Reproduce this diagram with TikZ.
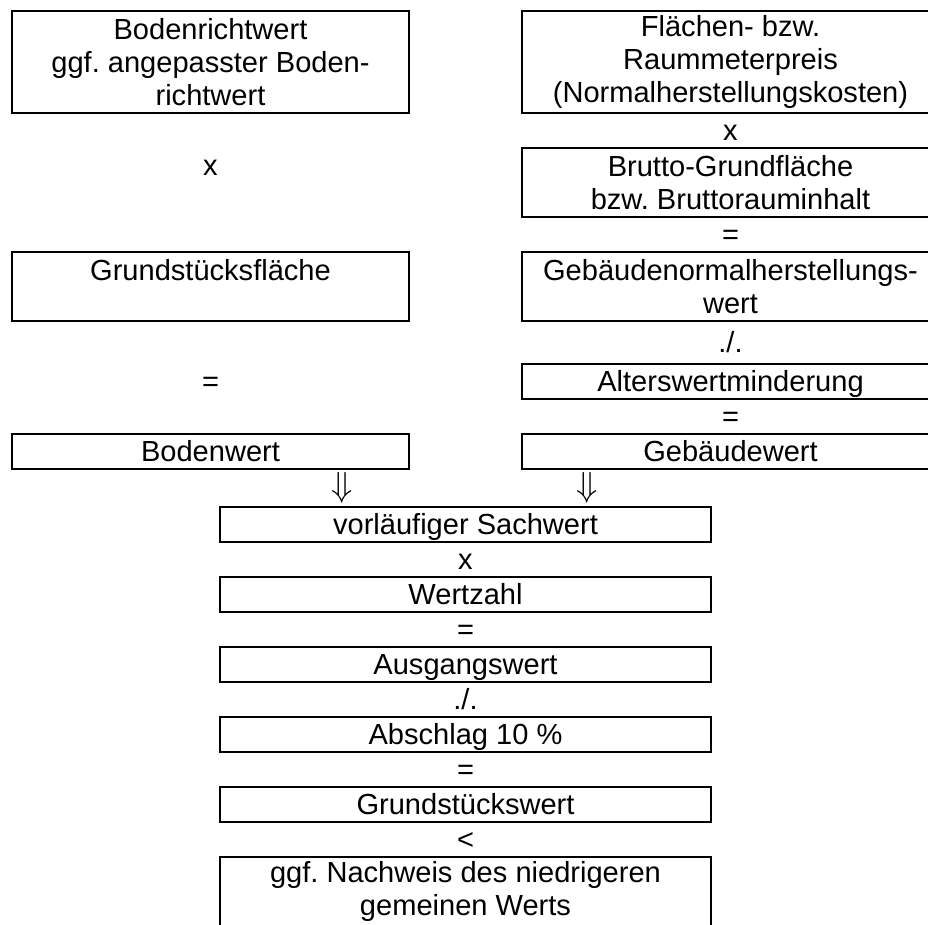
\documentclass[tikz,border=0pt]{standalone}
\usepackage{fontspec}
\setmainfont{Liberation Sans}
\usetikzlibrary{positioning}
\newcommand{\pxu}{0.413pt}
\frenchspacing

\begin{document}
\begin{tikzpicture}[x=\pxu, y=-\pxu, node distance=0pt,
    every node/.style={font=\fontsize{12pt}{13.6pt}\selectfont, align=center,
                       inner sep=0pt, outer sep=0pt},
    box/.style={draw, line width=0.7pt, minimum width=#1*\pxu},
    tall/.style={minimum height=#1*\pxu},
    oneline/.style={text height=8.6pt, text depth=0pt},
    op/.style={oneline, minimum height=35*\pxu},
    pfeil/.style={font=\fontsize{14pt}{16pt}\selectfont}]
  \clip (0,0) rectangle (928,925);
  % rechte Spalte: Gebaeudewert
  \node[box=417, tall=102] (preis) at (730.5,62)
       {Flächen- bzw.\\Raummeterpreis\\(Normalherstellungskosten)};
  \node[op, below=of preis] (malR) {x};
  \node[box=417, tall=69, below=of malR] (bgf) {Brutto-Grundfläche\\bzw. Bruttorauminhalt};
  \node[op, below=of bgf] (gleichR) {=};
  \node[box=417, tall=69, below=of gleichR] (gnhw) {Gebäudenormalherstellungs-\\wert};
  \node[op, tall=43, below=of gnhw] (minusR) {./.};
  \node[box=417, tall=35, oneline, below=of minusR] (awm) {Alterswertminderung};
  \node[op, below=of awm] (istR) {=};
  \node[box=417, tall=35, oneline, below=of istR] (gbw) {Gebäudewert};
  % linke Spalte: Bodenwert
  \node[box=397, tall=102] (brw) at (210.5,62)
       {Bodenrichtwert\\ggf. angepasster Boden-\\richtwert};
  \node[op, anchor=north] (malL) at (brw |- bgf.north) {x};
  \node[box=397, tall=69] (gsf) at (brw |- gnhw) {Grundstücksfläche\\\mbox{}};
  \node[op] (istL) at (brw |- awm) {=};
  \node[box=397, tall=35, oneline] (bdw) at (brw |- gbw) {Bodenwert};
  % Zusammenfuehrung
  \node[pfeil] (pfeilL) at (342,488) {$\Downarrow$};
  \node[pfeil] (pfeilR) at (587,488) {$\Downarrow$};
  % untere Spalte: Grundstueckswert
  \node[box=491, tall=35, oneline] (vsw) at (465.5,524.5) {vorläufiger Sachwert};
  \node[op, below=of vsw] (mal) {x};
  \node[box=491, tall=35, oneline, below=of mal] (wz) {Wertzahl};
  \node[op, below=of wz] (ist1) {=};
  \node[box=491, tall=35, oneline, below=of ist1] (agw) {Ausgangswert};
  \node[op, below=of agw] (minus) {./.};
  \node[box=491, tall=35, oneline, below=of minus] (abs) {Abschlag 10 \%};
  \node[op, below=of abs] (ist2) {=};
  \node[box=491, tall=35, oneline, below=of ist2] (gsw) {Grundstückswert};
  \node[op, below=of gsw] (kleiner) {<};
  \node[box=491, tall=69, below=of kleiner] (nachw) {ggf. Nachweis des niedrigeren\\gemeinen Werts};
\end{tikzpicture}
\end{document}
